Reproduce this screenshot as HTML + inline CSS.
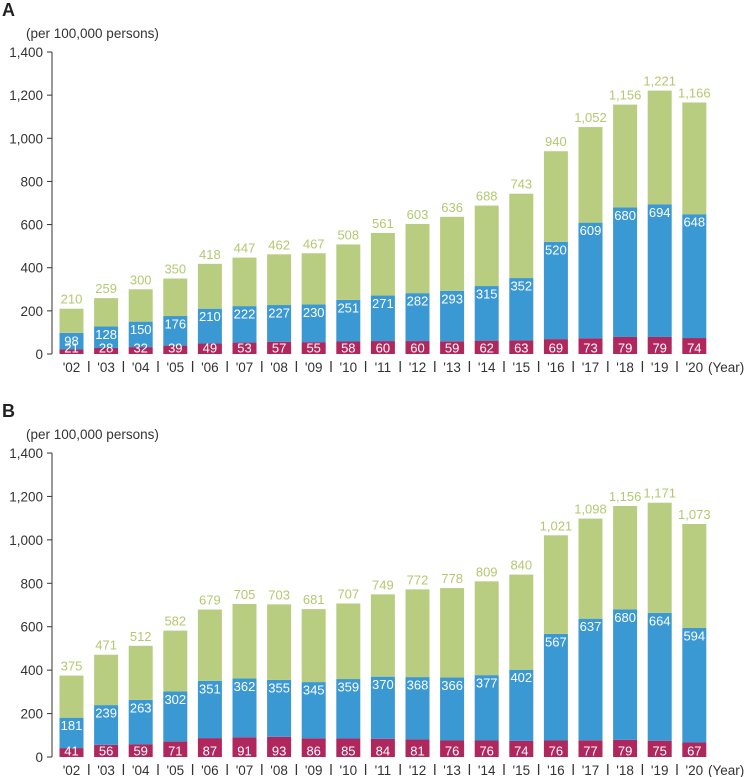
<!DOCTYPE html>
<html><head><meta charset="utf-8"><style>
body{margin:0;background:#fff;width:744px;height:777px;overflow:hidden;font-family:"Liberation Sans",sans-serif}
svg{display:block}
</style></head><body>
<svg id="chart" width="744" height="777" xmlns="http://www.w3.org/2000/svg" font-family="Liberation Sans, sans-serif"></svg>
<script>
const years = ["'02","'03","'04","'05","'06","'07","'08","'09","'10","'11","'12","'13","'14","'15","'16","'17","'18","'19","'20"];
const yTicks = [0,200,400,600,800,1000,1200,1400];
const yTickLabels = ["0","200","400","600","800","1,000","1,200","1,400"];
const aRed = [21,28,32,39,49,53,57,55,58,60,60,59,62,63,69,73,79,79,74];
const aBlue = [98,128,150,176,210,222,227,230,251,271,282,293,315,352,520,609,680,694,648];
const aTotal = [210,259,300,350,418,447,462,467,508,561,603,636,688,743,940,1052,1156,1221,1166];
const bRed = [41,56,59,71,87,91,93,86,85,84,81,76,76,74,76,77,79,75,67];
const bBlue = [181,239,263,302,351,362,355,345,359,370,368,366,377,402,567,637,680,664,594];
const bTotal = [375,471,512,582,679,705,703,681,707,749,772,778,809,840,1021,1098,1156,1171,1073];

const svg = document.getElementById('chart');
const NS = 'http://www.w3.org/2000/svg';
function mk(tag, attrs, parent){const e=document.createElementNS(NS,tag);for(const k in attrs)e.setAttribute(k,attrs[k]);(parent||svg).appendChild(e);return e;}
const fmt = v => v.toLocaleString('en-US');

function panel(letter, y0, y1400, red, blue, total){
  const g = mk('g',{});
  
  
  const yS = v => y0 - v*(y0-y1400)/1400;
  const xC = i => 71.5 + i*34.6;
  const bw = 24;
  let t = mk('text',{x:2,y:y1400-36,'font-size':18,'font-weight':'bold',fill:'#222'},g); t.textContent=letter;
   
  t = mk('text',{x:26,y:y1400-14,'font-size':13.5,fill:'#333'},g); t.textContent='(per 100,000 persons)';
   
  const ax = mk('line',{x1:52,x2:52,y1:yS(1400),y2:yS(0),stroke:'#333','stroke-width':1},g);
   
  yTicks.forEach((v,i)=>{
    const l=mk('line',{x1:47,x2:52,y1:yS(v),y2:yS(v),stroke:'#333'},g);
     
    const tl=mk('text',{x:43,y:yS(v)+5,'font-size':13.5,'text-anchor':'end',fill:'#333'},g); tl.textContent=yTickLabels[i];
     
  });
  years.forEach((yr,i)=>{
    const x=xC(i)-bw/2;
    const segs=[[0,red[i],'#b0275e'],[red[i],blue[i],'#3a98d3'],[blue[i],total[i],'#b9cd80']];
    const names=['bar-segment-red','bar-segment-blue','bar-segment-green'];
    segs.forEach((s,k)=>{
      const r=mk('rect',{x:x,y:yS(s[1]),width:bw,height:yS(s[0])-yS(s[1]),fill:s[2]},g);
       
    });
    let lb=mk('text',{x:xC(i),y:y0-1.5,'font-size':13,'text-anchor':'middle',fill:'#fff'},g); lb.textContent=red[i];
     
    lb=mk('text',{x:xC(i),y:yS(blue[i])+12.5,'font-size':13,'text-anchor':'middle',fill:'#fff'},g); lb.textContent=blue[i];
     
    lb=mk('text',{x:xC(i),y:yS(total[i])-5,'font-size':13,'text-anchor':'middle',fill:'#b2c96f'},g); lb.textContent=fmt(total[i]);
     
    lb=mk('text',{x:xC(i),y:y0+18,'font-size':13.5,'text-anchor':'middle',fill:'#333'},g); lb.textContent=yr;
     
    if(i<years.length-1){
      const sp=mk('line',{x1:xC(i)+17.3,x2:xC(i)+17.3,y1:y0+7,y2:y0+18,stroke:'#333','stroke-width':1.3},g);
       
    }
  });
  const yl=mk('text',{x:708,y:y0+18,'font-size':13.5,fill:'#333'},g); yl.textContent='(Year)';
   
}
panel('A',354,52,aRed,aBlue,aTotal);
panel('B',757,453,bRed,bBlue,bTotal);
</script>
</body></html>
